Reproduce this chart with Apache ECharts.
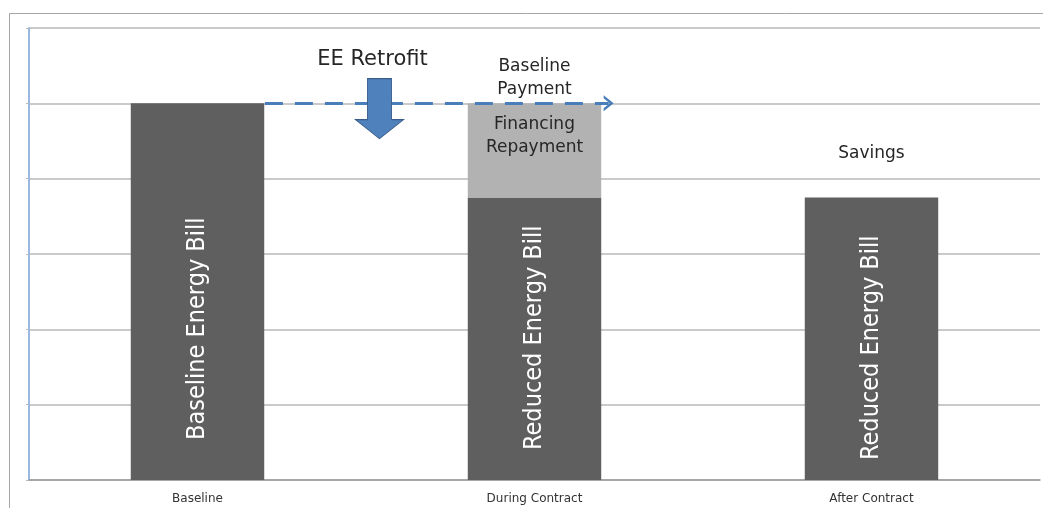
<!DOCTYPE html>
<html lang="en" style="height: 100%">

<head>
    <meta charset="utf-8">
</head>

<body style="height: 100%; margin: 0; background: #fff">
    <div id="container" style="height: 100%"></div>
    <script type="text/javascript" src="https://fastly.jsdelivr.net/npm/echarts@6.0.0/dist/echarts.min.js"></script>
    <script type="text/javascript">
    // categories and stacked values (axis: 0..6, one gridline per unit)
    const categories = ['Baseline', 'During Contract', 'After Contract'];
    const billValues = [5, 3.75, 3.75];
    const billLabels = ['Baseline Energy Bill', 'Reduced Energy Bill', 'Reduced Energy Bill'];
    const topValues = [null, 1.25, 1.25];
    const topLabels = ['', 'Financing\nRepayment', 'Savings'];

    // annotations, in data units on a hidden value x axis (category centres at 0, 1, 2)
    const paymentLine = [[0.2, 5], [1.22, 5]];
    const retrofitArrow = [0.54, 4.93];
    const paymentText = [1, 5];

    const darkGrey = '#5f5f5f';
    const lightGrey = '#b2b2b2';
    const blue = '#4a7ebb';
    const textColor = '#262626';

    var dom = document.getElementById('container');
    var myChart = echarts.init(dom, null, { renderer: 'canvas' });

    const labelGap = [40, 30, 20];

    var option = {
        animation: false,
        graphic: [{
            type: 'rect',
            left: 7,
            top: 11,
            silent: true,
            shape: { width: 1100, height: 600 },
            style: { fill: 'none', stroke: '#a6a6a6', lineWidth: 1 }
        }],
        grid: { left: 29, right: 3, top: 28, bottom: 28 },
        xAxis: [{
                type: 'category',
                data: categories,
                axisLine: { lineStyle: { color: '#9a9a9a', width: 1.5 } },
                axisTick: { length: 5, lineStyle: { color: '#9a9a9a' } },
                axisLabel: {
                    color: '#333',
                    fontSize: 12,
                    fontFamily: 'DejaVu Sans',
                    margin: 13
                }
            },
            {
                type: 'value',
                min: -0.5,
                max: 2.5,
                show: false
            }
        ],
        yAxis: {
            type: 'value',
            min: 0,
            max: 6,
            interval: 1,
            axisLabel: { show: false },
            axisLine: { show: true, onZero: false, lineStyle: { color: '#9ab9e1', width: 2 } },
            axisTick: { show: true, length: 3, lineStyle: { color: '#b8b8b8' } },
            splitLine: { lineStyle: { color: '#b8b8b8', width: 1.5 } }
        },
        series: [{
                name: 'Bill',
                type: 'bar',
                stack: 'total',
                barWidth: '39.6%',
                data: billValues.map((v, i) => ({
                    value: v,
                    label: { distance: labelGap[i] }
                })),
                itemStyle: { color: darkGrey },
                label: {
                    show: true,
                    position: 'insideBottom',
                    rotate: 90,
                    align: 'left',
                    verticalAlign: 'middle',
                    color: '#fff',
                    fontSize: 25,
                    fontFamily: 'DejaVu Sans Condensed, sans-serif',
                    formatter: p => billLabels[p.dataIndex]
                }
            },
            {
                name: 'Top',
                type: 'bar',
                stack: 'total',
                barWidth: '39.6%',
                data: topValues.map((v, i) => ({
                    value: v,
                    itemStyle: { color: i === 1 ? lightGrey : 'rgba(0,0,0,0)' },
                    label: i === 1 ? { position: 'insideTop', distance: 10 } : { position: 'inside', offset: [0, 3] }
                })),
                label: {
                    show: true,
                    color: textColor,
                    fontSize: 17,
                    lineHeight: 23,
                    fontFamily: 'DejaVu Sans',
                    formatter: p => topLabels[p.dataIndex]
                }
            },
            {
                name: 'Notes',
                type: 'line',
                xAxisIndex: 1,
                data: [],
                markLine: {
                    silent: true,
                    symbol: ['none', 'path://M0,9 L8,0 L16,9 L13,9 L8,3.6 L3,9 Z'],
                    symbolSize: [16, 10],
                    label: { show: false },
                    lineStyle: { color: blue, width: 3, type: [18, 12] },
                    data: [[{ coord: paymentLine[0] }, { coord: paymentLine[1] }]]
                },
                markPoint: {
                    silent: true,
                    data: [{
                            coord: retrofitArrow,
                            symbol: 'path://M12,0 L36,0 L36,41 L48,41 L24,60 L0,41 L12,41 Z',
                            symbolSize: [48, 60],
                            itemStyle: { color: '#4f81bd', borderColor: '#385d8a', borderWidth: 1 },
                            label: {
                                show: true,
                                position: 'top',
                                distance: 8,
                                offset: [-7, 0],
                                formatter: 'EE Retrofit',
                                color: textColor,
                                fontSize: 21,
                                fontFamily: 'DejaVu Sans'
                            }
                        },
                        {
                            coord: paymentText,
                            symbol: 'circle',
                            symbolSize: 0,
                            label: {
                                show: true,
                                position: 'top',
                                distance: 2,
                                formatter: 'Baseline\nPayment',
                                color: textColor,
                                fontSize: 17,
                                lineHeight: 23,
                                fontFamily: 'DejaVu Sans'
                            }
                        }
                    ]
                }
            }
        ]
    };

    myChart.setOption(option);
    window.addEventListener('resize', myChart.resize);
    </script>
</body>

</html>
